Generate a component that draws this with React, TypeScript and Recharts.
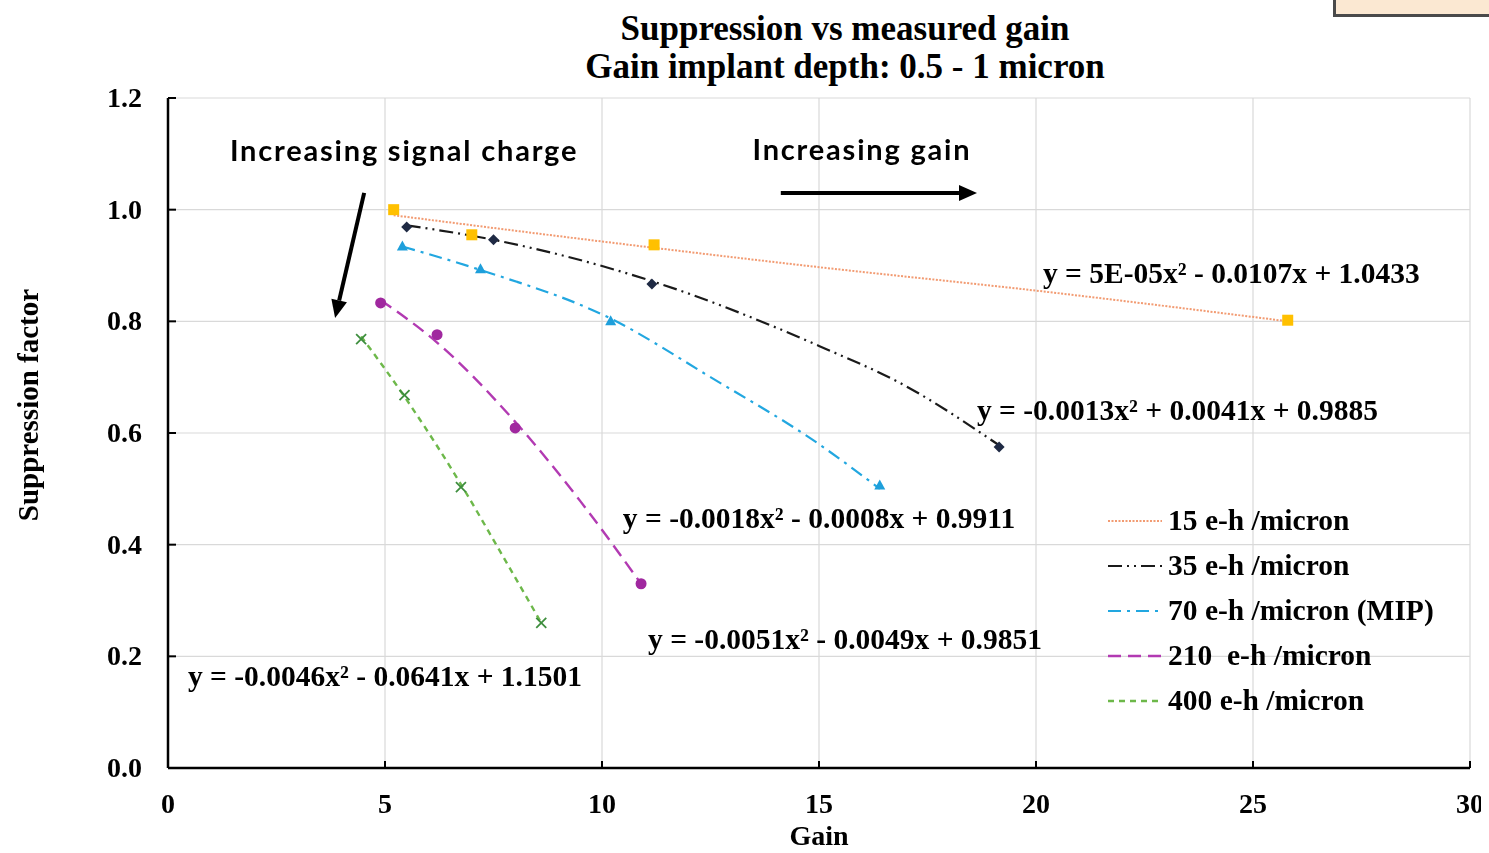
import { ScatterChart, Scatter, XAxis, YAxis, CartesianGrid, ReferenceDot, ReferenceLine, Legend } from 'recharts';

const serif = '"Liberation Serif", "Times New Roman", serif';
const sans = 'Lato, "Open Sans", "DejaVu Sans", sans-serif';

// axis ticks
const gainTicks = [0, 5, 10, 15, 20, 25, 30];
const factorTicks = [0, 0.2, 0.4, 0.6, 0.8, 1.0, 1.2];

// measured points: gain vs suppression factor
const eh15 = [{ x: 5.2, y: 1.0 }, { x: 7.0, y: 0.955 }, { x: 11.2, y: 0.937 }, { x: 25.8, y: 0.802 }];
const eh35 = [{ x: 5.5, y: 0.969 }, { x: 7.5, y: 0.946 }, { x: 11.15, y: 0.867 }, { x: 19.15, y: 0.575 }];
const eh70 = [{ x: 5.4, y: 0.935 }, { x: 7.2, y: 0.894 }, { x: 10.2, y: 0.801 }, { x: 16.4, y: 0.507 }];
const eh210 = [{ x: 4.9, y: 0.833 }, { x: 6.2, y: 0.776 }, { x: 8.0, y: 0.609 }, { x: 10.9, y: 0.33 }];
const eh400 = [{ x: 4.45, y: 0.768 }, { x: 5.45, y: 0.668 }, { x: 6.75, y: 0.503 }, { x: 8.6, y: 0.26 }];

// trendlines, points
const eh15Fit = [{ x: 5.2, y: 0.99 }, { x: 10, y: 0.943 }, { x: 15, y: 0.897 }, { x: 20, y: 0.855 }, { x: 25.8, y: 0.8 }];
const eh35Fit = [{ x: 5.5, y: 0.972 }, { x: 7.5, y: 0.946 }, { x: 11.15, y: 0.872 }, { x: 15, y: 0.756 }, { x: 17, y: 0.684 }, { x: 19.15, y: 0.578 }];
const eh70Fit = [{ x: 5.4, y: 0.934 }, { x: 7.2, y: 0.892 }, { x: 10.2, y: 0.805 }, { x: 12.5, y: 0.7 }, { x: 15, y: 0.58 }, { x: 16.4, y: 0.5 }];
const eh210Fit = [{ x: 4.9, y: 0.838 }, { x: 6.2, y: 0.762 }, { x: 8.0, y: 0.62 }, { x: 9.5, y: 0.478 }, { x: 10.9, y: 0.33 }];
const eh400Fit = [{ x: 4.45, y: 0.773 }, { x: 5.45, y: 0.665 }, { x: 6.75, y: 0.508 }, { x: 7.6, y: 0.395 }, { x: 8.6, y: 0.26 }];

const seriesNames = ['15 e-h /micron', '35 e-h /micron', '70 e-h /micron (MIP)', '210  e-h /micron', '400 e-h /micron'];
const equations = [
  'y = 5E-05x² - 0.0107x + 1.0433',
  'y = -0.0013x² + 0.0041x + 0.9885',
  'y = -0.0018x² - 0.0008x + 0.9911',
  'y = -0.0051x² - 0.0049x + 0.9851',
  'y = -0.0046x² - 0.0641x + 1.1501',
];
// where each equation starts (left edge, vertical centre), in chart units
const equationAt = [
  { x: 20.16, y: 0.887 },
  { x: 18.64, y: 0.641 },
  { x: 10.48, y: 0.448 },
  { x: 11.06, y: 0.231 },
  { x: 0.46, y: 0.165 },
];

const square = (color: string) => (p: any) => <rect x={p.cx - 5.5} y={p.cy - 5.5} width={11} height={11} fill={color} />;
const diamond = (color: string) => (p: any) => (
  <polygon points={`${p.cx},${p.cy - 5.5} ${p.cx + 5.5},${p.cy} ${p.cx},${p.cy + 5.5} ${p.cx - 5.5},${p.cy}`} fill={color} />
);
const triangle = (color: string) => (p: any) => (
  <polygon points={`${p.cx},${p.cy - 5.5} ${p.cx + 5.5},${p.cy + 4.5} ${p.cx - 5.5},${p.cy + 4.5}`} fill={color} />
);
const circle = (color: string) => (p: any) => <circle cx={p.cx} cy={p.cy} r={5.5} fill={color} />;
const cross = (color: string) => (p: any) => (
  <g stroke={color} strokeWidth={1.8}>
    <line x1={p.cx - 5} y1={p.cy - 5} x2={p.cx + 5} y2={p.cy + 5} />
    <line x1={p.cx - 5} y1={p.cy + 5} x2={p.cx + 5} y2={p.cy - 5} />
  </g>
);

const series = [
  { name: seriesNames[0], points: eh15, fit: eh15Fit, marker: square('#FFC000'), line: '#F29B72', dash: '2 1.5', width: 2 },
  { name: seriesNames[1], points: eh35, fit: eh35Fit, marker: diamond('#1F2A44'), line: '#1a1a1a', dash: '14 5 2 5 2 5', width: 2.2 },
  { name: seriesNames[2], points: eh70, fit: eh70Fit, marker: triangle('#1E9FDB'), line: '#22A7E0', dash: '13 6 3 6', width: 2.2 },
  { name: seriesNames[3], points: eh210, fit: eh210Fit, marker: circle('#A0289F'), line: '#B23AB2', dash: '13 7', width: 2.4 },
  { name: seriesNames[4], points: eh400, fit: eh400Fit, marker: cross('#3E8E3E'), line: '#6DB84A', dash: '6 5', width: 2.4 },
];

const arrows = [
  { from: { x: 4.52, y: 1.03 }, to: { x: 3.85, y: 0.806 } },
  { from: { x: 14.12, y: 1.03 }, to: { x: 18.64, y: 1.03 } },
];

const notes = [
  { x: 5.44, y: 1.107, text: 'Increasing signal charge' },
  { x: 15.99, y: 1.109, text: 'Increasing gain' },
];

const Arrow = (p: any) => {
  const { x1, y1, x2, y2 } = p;
  const a = Math.atan2(y2 - y1, x2 - x1);
  const head = 18;
  const half = 8;
  const bx = x2 - head * Math.cos(a);
  const by = y2 - head * Math.sin(a);
  const nx = -Math.sin(a) * half;
  const ny = Math.cos(a) * half;
  return (
    <g>
      <line x1={x1} y1={y1} x2={bx} y2={by} stroke="#000" strokeWidth={4} />
      <polygon points={`${x2},${y2} ${bx + nx},${by + ny} ${bx - nx},${by - ny}`} fill="#000" />
    </g>
  );
};

const XTick = (p: any) => (
  <g>
    <line x1={p.x} x2={p.x} y1={p.y} y2={p.y - 7} stroke="#000" strokeWidth={2} />
    <text x={p.x} y={p.y + 45} textAnchor="middle" fontFamily={serif} fontWeight="bold" fontSize={28} fill="#000">
      {p.payload.value}
    </text>
  </g>
);

const YTick = (p: any) => (
  <g>
    <line x1={p.x} x2={p.x + 8} y1={p.y} y2={p.y} stroke="#000" strokeWidth={2} />
    <text x={p.x - 26} y={p.y + 9} textAnchor="end" fontFamily={serif} fontWeight="bold" fontSize={28} fill="#000">
      {Number(p.payload.value).toFixed(1)}
    </text>
  </g>
);

const renderLegend = () => (
  <div style={{ fontFamily: serif, fontWeight: 'bold', fontSize: 29.5, color: '#000' }}>
    {series.map((s) => (
      <div key={s.name} style={{ display: 'flex', alignItems: 'center', height: 45, whiteSpace: 'pre' }}>
        <svg width={60} height={10} style={{ flex: 'none' }}>
          <line x1={0} x2={54} y1={5} y2={5} stroke={s.line} strokeWidth={s.width} strokeDasharray={s.dash} />
        </svg>
        <span>{s.name}</span>
      </div>
    ))}
  </div>
);

export default function App() {
  return (
    <div style={{ position: 'relative', width: 1481, height: 845, marginBottom: -8 }}>
      {/* edge of a neighbouring slide box, cut by the frame */}
      <div
        style={{
          position: 'fixed', left: 1333, top: 0, width: 156, height: 17, boxSizing: 'border-box',
          borderLeft: '3px solid #4a4a4a', borderBottom: '3px solid #4a4a4a', background: '#FBE8D2',
        }}
      />
      <div
        style={{
          position: 'absolute', left: 437, top: 2, width: 800, textAlign: 'center',
          fontFamily: serif, fontWeight: 'bold', fontSize: 35, lineHeight: '38px', color: '#000',
        }}
      >
        Suppression vs measured gain
        <br />
        Gain implant depth: 0.5 - 1 micron
      </div>
      <ScatterChart width={1481} height={845} margin={{ top: 90, right: 19, left: 0, bottom: 0 }}>
        <CartesianGrid stroke="#D9D9D9" strokeWidth={1.2} />
        <XAxis
          type="number"
          dataKey="x"
          domain={[0, 30]}
          ticks={gainTicks}
          height={85}
          tickSize={0}
          tickMargin={0}
          tickLine={false}
          tick={XTick}
          axisLine={{ stroke: '#000', strokeWidth: 2.5 }}
          label={{ value: 'Gain', position: 'insideBottom', offset: 8, fontFamily: serif, fontWeight: 'bold', fontSize: 28, fill: '#000' }}
        />
        <YAxis
          type="number"
          dataKey="y"
          domain={[0, 1.2]}
          ticks={factorTicks}
          width={160}
          tickSize={0}
          tickMargin={0}
          tickLine={false}
          tick={YTick}
          axisLine={{ stroke: '#000', strokeWidth: 2.5 }}
          label={{
            content: () => (
              <text
                x={20}
                y={397}
                transform="rotate(-90 20 397)"
                textAnchor="middle"
                dominantBaseline="central"
                fontFamily={serif}
                fontWeight="bold"
                fontSize={29}
                fill="#000"
              >
                Suppression factor
              </text>
            ),
          }}
        />
        {series.map((s) => (
          <Scatter
            key={`fit-${s.name}`}
            data={s.fit}
            line={{ stroke: s.line, strokeWidth: s.width, strokeDasharray: s.dash }}
            lineJointType="monotoneX"
            shape={() => <g />}
            legendType="none"
            isAnimationActive={false}
          />
        ))}
        {series.map((s) => (
          <Scatter key={s.name} name={s.name} data={s.points} shape={s.marker} isAnimationActive={false} />
        ))}
        {arrows.map((a, i) => (
          <ReferenceLine key={`arrow-${i}`} segment={[a.from, a.to]} shape={Arrow} />
        ))}
        {notes.map((n) => (
          <ReferenceDot
            key={n.text}
            x={n.x}
            y={n.y}
            shape={(p: any) => (
              <text
                x={p.cx}
                y={p.cy}
                textAnchor="middle"
                dominantBaseline="central"
                fontFamily={sans}
                fontWeight="bold"
                fontSize={29}
                letterSpacing={1.8}
                fill="#000"
              >
                {n.text}
              </text>
            )}
          />
        ))}
        {equations.map((eq, i) => (
          <ReferenceDot
            key={eq}
            x={equationAt[i].x}
            y={equationAt[i].y}
            shape={(p: any) => (
              <text x={p.cx} y={p.cy} dominantBaseline="central" fontFamily={serif} fontWeight="bold" fontSize={29.5} fill="#000">
                {eq}
              </text>
            )}
          />
        ))}
        <Legend
          layout="vertical"
          align="center"
          verticalAlign="middle"
          content={renderLegend}
          wrapperStyle={{ left: 1100, top: 490, width: 380 }}
        />
      </ScatterChart>
    </div>
  );
}
